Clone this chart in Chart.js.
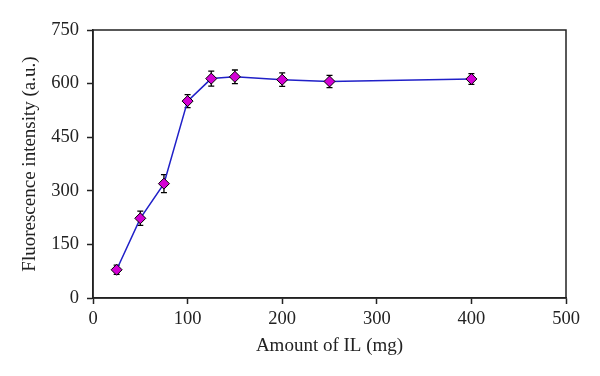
<!DOCTYPE html>
<html>
<head>
<meta charset="utf-8">
<script src="https://cdn.jsdelivr.net/npm/chart.js@4/dist/chart.umd.min.js"></script>
<style>
  html, body { margin: 0; padding: 0; background: #fff; }
  #wrap { width: 600px; height: 376px; }
</style>
</head>
<body>
<div id="wrap"><canvas id="c" width="600" height="376"></canvas></div>
<script>
// amount of IL (mg) vs fluorescence intensity
const amounts = [25, 50, 75, 100, 125, 150, 200, 250, 400];
const intensity = [79, 223, 320, 551, 614, 619, 611, 606, 613];
const errors = [13, 20, 25, 18, 21, 19, 19, 17, 15];

const xTicks = [0, 100, 200, 300, 400, 500];
const yTicks = [0, 150, 300, 450, 600, 750];

const FONT = "'Liberation Serif', 'Times New Roman', serif";

// error bars + frame box
const errorBars = {
  id: 'errorBars',
  beforeDatasetsDraw(chart) {
    const { ctx, scales: { x, y }, chartArea } = chart;
    ctx.save();
    ctx.strokeStyle = '#000';
    ctx.lineWidth = 1.3;
    amounts.forEach((a, i) => {
      const px = x.getPixelForValue(a);
      const top = y.getPixelForValue(intensity[i] + errors[i]);
      const bot = y.getPixelForValue(intensity[i] - errors[i]);
      ctx.beginPath();
      ctx.moveTo(px, top); ctx.lineTo(px, bot);
      ctx.moveTo(px - 3, top); ctx.lineTo(px + 3, top);
      ctx.moveTo(px - 3, bot); ctx.lineTo(px + 3, bot);
      ctx.stroke();
    });
    // box round the plot
    ctx.lineWidth = 1.5;
    ctx.strokeStyle = '#222';
    ctx.strokeRect(chartArea.left, chartArea.top, chartArea.right - chartArea.left, chartArea.bottom - chartArea.top);
    ctx.restore();
  },
};

new Chart(document.getElementById('c'), {
  type: 'line',
  plugins: [errorBars],
  data: {
    datasets: [{
      data: amounts.map((a, i) => ({ x: a, y: intensity[i] })),
      borderColor: '#2020c8',
      borderWidth: 1.5,
      tension: 0,
      pointStyle: 'rectRot',
      pointRadius: 5.5,
      pointBackgroundColor: '#d400d4',
      pointBorderColor: '#000',
      pointBorderWidth: 1,
    }],
  },
  options: {
    responsive: false,
    animation: false,
    layout: { padding: { top: 30, right: 34, left: 0, bottom: 0 } },
    plugins: { legend: { display: false }, tooltip: { enabled: false } },
    scales: {
      x: {
        type: 'linear',
        min: 0, max: 500,
        afterBuildTicks: s => { s.ticks = xTicks.map(v => ({ value: v })); },
        afterFit: s => { s.height = 78; },
        grid: { drawOnChartArea: false, tickLength: 6, tickColor: '#222', tickWidth: 1.5 },
        border: { color: '#222', width: 1.5 },
        ticks: { color: '#222', font: { family: FONT, size: 18.5 }, padding: 4, maxRotation: 0 },
        title: { display: true, text: 'Amount of IL (mg)', color: '#222', font: { family: FONT, size: 19 }, padding: { top: 0, bottom: 19 } },
      },
      y: {
        type: 'linear',
        min: 0, max: 750,
        afterBuildTicks: s => { s.ticks = yTicks.map(v => ({ value: v })); },
        afterFit: s => { s.width = 93; },
        grid: { drawOnChartArea: false, tickLength: 6, tickColor: '#222', tickWidth: 1.5 },
        border: { color: '#222', width: 1.5 },
        ticks: { color: '#222', font: { family: FONT, size: 18.5 }, padding: 8 },
        title: { display: true, text: 'Fluorescence intensity (a.u.)', color: '#222', font: { family: FONT, size: 19 }, padding: { top: 19, bottom: 0 } },
      },
    },
  },
});
</script>
</body>
</html>
